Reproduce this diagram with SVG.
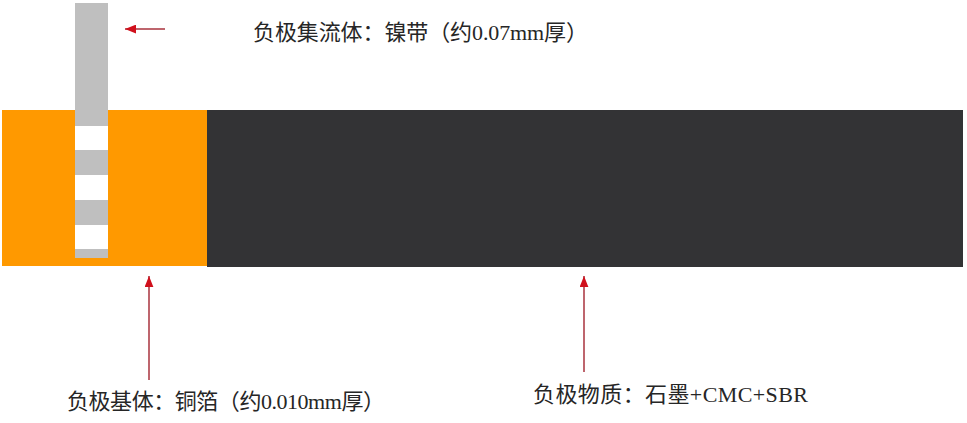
<svg xmlns="http://www.w3.org/2000/svg" width="967" height="423" viewBox="0 0 967 423">
  <defs>
    <style>
      .lbl { font-family: "Liberation Serif", "Noto Sans CJK SC", serif; font-size: 22px; fill: #262626; }
      .conn { stroke: #a8323c; stroke-width: 1.5; fill: none; marker-end: url(#ah); }
      .strip { fill: #bfbfbf; }
      .gap { fill: #ffffff; }
    </style>
    <marker id="ah" viewBox="0 0 10 8" refX="10" refY="4" markerWidth="11" markerHeight="9" markerUnits="userSpaceOnUse" orient="auto">
      <path d="M0,0 L10,4 L0,8 Z" fill="#d0101c"/>
    </marker>
  </defs>
  <rect width="967" height="423" fill="#ffffff"/>

  <g id="copper-foil">
    <rect x="2" y="110" width="205" height="156" fill="#ff9900"/>
  </g>
  <g id="active-material">
    <rect x="207" y="110" width="756" height="157" fill="#333335"/>
  </g>
  <g id="nickel-tab">
    <rect class="strip" x="75" y="3" width="33" height="255"/>
    <rect class="gap" x="75" y="126" width="33" height="24"/>
    <rect class="gap" x="75" y="175" width="33" height="25"/>
    <rect class="gap" x="75" y="225" width="33" height="24"/>
  </g>

  <g id="connectors">
    <line class="conn" x1="165" y1="29" x2="125" y2="29"/>
    <line class="conn" x1="149" y1="380" x2="149" y2="276"/>
    <line class="conn" x1="584" y1="372" x2="584" y2="276"/>
  </g>

  <g id="label-tab">
    <text class="lbl" x="253" y="40" textLength="335" lengthAdjust="spacing">负极集流体：镍带（约0.07mm厚）</text>
  </g>
  <g id="label-foil">
    <text class="lbl" x="67" y="409" textLength="318" lengthAdjust="spacing">负极基体：铜箔（约0.010mm厚）</text>
  </g>
  <g id="label-material">
    <text class="lbl" x="533" y="402" textLength="275" lengthAdjust="spacing">负极物质：石墨+CMC+SBR</text>
  </g>
</svg>
